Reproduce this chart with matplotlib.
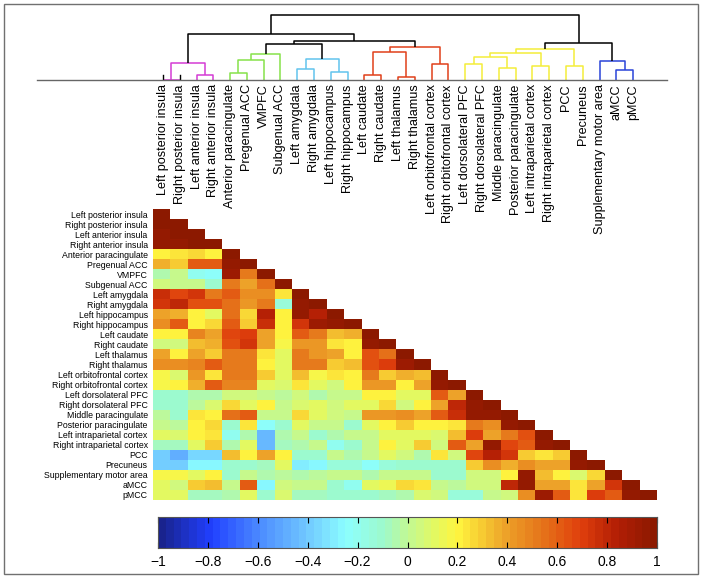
import numpy as np
import matplotlib
matplotlib.use("Agg")
import matplotlib.pyplot as plt
from matplotlib.colors import LinearSegmentedColormap
from matplotlib.patches import Rectangle

plt.rcParams['font.family'] = ['Liberation Sans', 'DejaVu Sans']

# regions, in dendrogram / matrix order
regions = ["Left posterior insula", "Right posterior insula", "Left anterior insula",
           "Right anterior insula", "Anterior paracingulate", "Pregenual ACC", "VMPFC",
           "Subgenual ACC", "Left amygdala", "Right amygdala", "Left hippocampus",
           "Right hippocampus", "Left caudate", "Right caudate", "Left thalamus",
           "Right thalamus", "Left orbitofrontal cortex", "Right orbitofrontal cortex",
           "Left dorsolateral PFC", "Right dorsolateral PFC", "Middle paracingulate",
           "Posterior paracingulate", "Left intraparietal cortex", "Right intraparietal cortex",
           "PCC", "Precuneus", "Supplementary motor area", "aMCC", "pMCC"]

# lower triangle of the correlation matrix, row by row (diagonal included)
corr_rows = [
    [1.0],
    [0.97, 1.0],
    [0.96, 0.97, 1.0],
    [0.95, 0.96, 0.97, 1.0],
    [0.2, 0.22, 0.25, 0.2, 1.0],
    [0.35, 0.3, 0.6, 0.62, 0.95, 1.0],
    [-0.05, 0.0, -0.2, -0.22, 0.92, 0.5, 1.0],
    [0.05, 0.0, 0.0, -0.1, 0.5, 0.4, 0.55, 1.0],
    [0.75, 0.68, 0.72, 0.5, 0.62, 0.45, 0.45, 0.22, 1.0],
    [0.72, 0.8, 0.65, 0.65, 0.55, 0.42, 0.5, -0.15, 0.96, 1.0],
    [0.4, 0.35, 0.2, 0.1, 0.55, 0.25, 0.82, 0.2, 0.95, 0.82, 1.0],
    [0.45, 0.6, 0.2, 0.28, 0.6, 0.3, 0.75, 0.2, 0.72, 0.92, 0.95, 1.0],
    [0.2, 0.2, 0.48, 0.4, 0.68, 0.7, 0.38, 0.2, 0.6, 0.52, 0.32, 0.35, 1.0],
    [0.05, 0.05, 0.32, 0.35, 0.65, 0.72, 0.38, 0.18, 0.42, 0.42, 0.22, 0.2, 0.95, 1.0],
    [0.4, 0.2, 0.4, 0.3, 0.5, 0.5, 0.22, 0.12, 0.52, 0.42, 0.38, 0.2, 0.65, 0.55, 1.0],
    [0.45, 0.45, 0.48, 0.6, 0.5, 0.5, 0.2, 0.12, 0.5, 0.5, 0.3, 0.32, 0.65, 0.7, 0.92, 1.0],
    [0.18, 0.08, 0.42, 0.22, 0.5, 0.5, 0.3, 0.1, 0.32, 0.18, 0.22, 0.2, 0.5, 0.3, 0.35, 0.32, 1.0],
    [0.18, 0.2, 0.35, 0.6, 0.48, 0.48, 0.1, 0.08, 0.22, 0.1, 0.05, 0.2, 0.42, 0.42, 0.2, 0.4,
     0.95, 1.0],
    [-0.12, -0.12, -0.05, -0.05, 0.05, 0.05, 0.0, -0.02, 0.05, -0.05, 0.02, 0.0, 0.2, 0.2, 0.1,
     0.1, 0.6, 0.4, 1.0],
    [-0.12, -0.12, -0.03, 0.08, 0.25, 0.12, 0.2, 0.0, 0.08, 0.1, 0.05, 0.1, 0.12, 0.28, 0.05,
     0.2, 0.4, 0.8, 0.95, 1.0],
    [-0.02, -0.1, 0.22, 0.2, 0.55, 0.6, 0.02, 0.0, 0.25, 0.12, 0.05, 0.0, 0.42, 0.42, 0.45,
     0.38, 0.62, 0.75, 0.95, 0.95, 1.0],
    [0.0, -0.02, 0.2, 0.28, -0.1, 0.22, -0.25, -0.12, 0.1, 0.02, 0.0, -0.1, 0.12, 0.2, 0.3,
     0.2, 0.2, 0.22, 0.5, 0.45, 0.95, 1.0],
    [0.1, 0.08, 0.2, 0.22, -0.2, -0.05, -0.45, -0.05, 0.02, -0.1, -0.05, 0.0, 0.02, 0.12, 0.1,
     0.1, 0.08, 0.32, 0.7, 0.4, 0.5, 0.65, 1.0],
    [-0.08, -0.08, 0.1, 0.3, -0.05, 0.1, -0.45, -0.08, -0.05, 0.0, -0.2, -0.12, 0.0, 0.2, 0.1,
     0.3, 0.05, 0.6, 0.4, 0.95, 0.68, 0.62, 0.96, 1.0],
    [-0.4, -0.48, -0.35, -0.35, 0.32, 0.2, 0.4, 0.2, -0.1, -0.1, 0.0, -0.05, 0.0, 0.1, 0.05,
     -0.05, 0.22, 0.05, 0.68, 0.82, 0.72, 0.3, 0.22, 0.3, 1.0],
    [-0.4, -0.4, -0.28, -0.28, -0.12, -0.1, -0.08, 0.1, -0.3, -0.28, -0.15, -0.15, -0.25, -0.15,
     -0.12, -0.1, -0.12, -0.12, 0.3, 0.45, 0.35, 0.45, 0.38, 0.38, 0.95, 1.0],
    [0.18, 0.18, 0.1, 0.2, -0.12, 0.0, -0.05, -0.03, -0.05, -0.03, 0.0, 0.0, -0.05, 0.0, 0.0,
     0.0, -0.1, -0.1, 0.05, 0.05, 0.2, 0.95, 0.32, 0.2, 0.08, 0.28, 1.0],
    [0.1, 0.05, 0.3, 0.32, 0.02, 0.6, -0.28, 0.05, 0.02, 0.0, -0.1, -0.2, 0.1, 0.15, 0.28,
     0.22, 0.0, -0.02, 0.05, 0.05, 0.8, 0.95, 0.4, 0.4, 0.22, 0.38, 0.72, 1.0],
    [0.1, 0.1, -0.08, -0.08, -0.05, 0.1, -0.1, 0.08, -0.08, -0.08, -0.1, -0.1, -0.1, -0.08,
     -0.05, 0.08, 0.05, -0.15, -0.15, 0.02, 0.05, 0.45, 0.92, 0.6, 0.22, 0.7, 0.6, 0.95, 1.0],
]

# dendrogram merges: (left node, right node, height, colour); new nodes numbered from 29
merges = [
    (0, 1, 0.0, 'm'), (2, 3, 5.3, 'm'), (29, 30, 17.3, 'm'),
    (4, 5, 7.3, 'g'), (32, 6, 19.7, 'g'), (33, 7, 25.7, 'g'),
    (8, 9, 10.7, 'c'), (10, 11, 8.0, 'c'), (35, 36, 20.7, 'c'),
    (34, 37, 35.7, 'k'),
    (12, 13, 5.0, 'r'), (14, 15, 3.3, 'r'), (39, 40, 28.3, 'r'),
    (16, 17, 15.7, 'r'), (41, 42, 33.0, 'r'),
    (38, 43, 39.0, 'k'), (31, 44, 45.7, 'k'),
    (18, 19, 15.7, 'y'), (20, 21, 12.3, 'y'), (46, 47, 23.3, 'y'),
    (22, 23, 13.7, 'y'), (48, 49, 26.7, 'y'), (24, 25, 13.7, 'y'), (50, 51, 31.3, 'y'),
    (27, 28, 9.7, 'b'), (26, 53, 19.0, 'b'),
    (52, 54, 37.3, 'k'), (45, 55, 65.0, 'k'),
]
stub_leaves = [0, 1]
stub_height = 4.5

link_colors = {'m': '#d43cd4', 'g': '#86e24a', 'c': '#62c4ee', 'r': '#e0401a',
               'y': '#f4ee3a', 'b': '#2a44d8', 'k': 'black'}

cbar_ticks = [-1, -0.8, -0.6, -0.4, -0.2, 0, 0.2, 0.4, 0.6, 0.8, 1]
cbar_labels = ["\u22121", "\u22120.8", "\u22120.6", "\u22120.4", "\u22120.2", "0",
               "0.2", "0.4", "0.6", "0.8", "1"]

# colour map
cmap_pts = [
    (-1.0, (0.10, 0.14, 0.56)),
    (-0.8, (0.13, 0.25, 1.00)),
    (-0.6, (0.30, 0.55, 1.00)),
    (-0.4, (0.45, 0.80, 1.00)),
    (-0.25, (0.55, 1.00, 1.00)),
    (-0.1, (0.62, 0.98, 0.80)),
    (0.0, (0.76, 0.98, 0.58)),
    (0.1, (0.88, 0.98, 0.40)),
    (0.2, (1.00, 0.96, 0.25)),
    (0.3, (0.97, 0.80, 0.20)),
    (0.4, (0.93, 0.63, 0.16)),
    (0.55, (0.90, 0.45, 0.10)),
    (0.7, (0.88, 0.25, 0.05)),
    (0.85, (0.70, 0.12, 0.02)),
    (1.0, (0.55, 0.10, 0.00)),
]
cmap = LinearSegmentedColormap.from_list(
    "corr", [((v + 1) / 2, c) for v, c in cmap_pts], N=64)

n = len(regions)
mat = np.full((n, n), np.nan)
for i, row in enumerate(corr_rows):
    mat[i, :len(row)] = row

W, H = 704, 577
fig = plt.figure(figsize=(W / 100, H / 100), dpi=100)


def px_axes(x0, y0, x1, y1):
    return fig.add_axes([x0 / W, 1 - y1 / H, (x1 - x0) / W, (y1 - y0) / H])


# outer frame
fig.patches.append(Rectangle((4 / W, 1 - 574 / H), 694 / W, 570 / H, transform=fig.transFigure,
                             fill=False, edgecolor='#707070', lw=1.0))

# ---- heatmap (drawn first, transparent, so the long column labels can run over the empty half)
axh = px_axes(153.3, 209, 657, 500)
axh.imshow(np.ma.masked_invalid(mat), cmap=cmap, vmin=-1, vmax=1, aspect='auto',
           interpolation='nearest')
axh.set_yticks(range(n))
axh.set_yticklabels(regions, fontsize=6.3)
axh.set_xticks([])
axh.tick_params(axis='y', length=0, pad=4)
axh.patch.set_visible(False)
for sp in axh.spines.values():
    sp.set_visible(False)

# ---- dendrogram
axd = px_axes(37, 10, 667, 80)
axd.patch.set_visible(False)
xpos = {i: float(i) for i in range(n)}
hgt = {i: 0.0 for i in range(n)}
for k, (a, b, h, c) in enumerate(merges):
    col = link_colors[c]
    axd.plot([xpos[a], xpos[a], xpos[b], xpos[b]], [hgt[a], h, h, hgt[b]],
             color=col, lw=1.1, solid_capstyle='butt', clip_on=False)
    xpos[n + k] = (xpos[a] + xpos[b]) / 2
    hgt[n + k] = h
for s in stub_leaves:
    axd.plot([s, s], [0, stub_height], color='black', lw=1.0)
axd.set_xlim(-7.5, 30.02)
axd.set_ylim(0, 70)
for sp in ['top', 'right', 'left']:
    axd.spines[sp].set_visible(False)
axd.spines['bottom'].set_color('#666666')
axd.spines['bottom'].set_linewidth(1.0)
axd.set_yticks([])
axd.set_xticks(range(n))
axd.set_xticklabels(regions, rotation=90, fontsize=9.1)
axd.tick_params(axis='x', length=0, pad=3)

# ---- colour bar
axc = px_axes(158, 517, 657, 548)
grad = np.linspace(-1, 1, 256).reshape(1, -1)
axc.imshow(grad, cmap=cmap, vmin=-1, vmax=1, aspect='auto', extent=[-1, 1, 0, 1],
           interpolation='nearest')
axc.set_xlim(-1, 1)
axc.set_yticks([])
axc.set_xticks(cbar_ticks)
axc.set_xticklabels(cbar_labels, fontsize=10)
axc.tick_params(axis='x', direction='in', top=True, length=4, width=0.8, pad=5)
for sp in axc.spines.values():
    sp.set_color('#555555')
    sp.set_linewidth(0.8)

fig.savefig("out.png", dpi=100)
